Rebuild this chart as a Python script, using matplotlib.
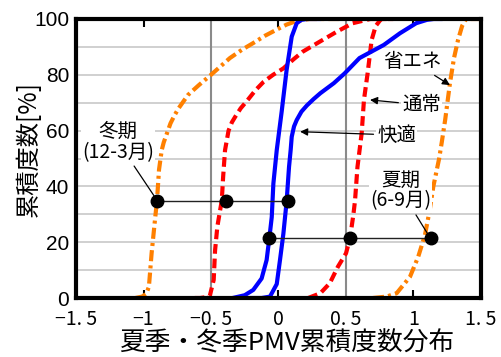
import matplotlib
matplotlib.use('Agg')
import matplotlib.pyplot as plt
from matplotlib.ticker import FixedLocator

plt.rcParams['lines.scale_dashes'] = False

# ---- data ----
# winter (冬期) curves
win_eco_x = [-1.06, -1.01, -0.98, -0.96, -0.94, -0.915, -0.90, -0.885, -0.865, -0.85, -0.83, -0.80,
             -0.77, -0.74, -0.67, -0.59, -0.50, -0.43, -0.36, -0.27, -0.19, -0.10, -0.013, 0.06,
             0.135, 0.23, 0.45]
win_eco_y = [0, 0.5, 1.5, 4, 16, 28, 35, 46, 53, 55.8, 58.5, 62.6,
             65.5, 68, 72.8, 76.3, 80, 83, 86, 89, 91.3, 94, 96.2, 98,
             99.3, 100, 100]

win_norm_x = [-0.62, -0.58, -0.51, -0.48, -0.47, -0.453, -0.42, -0.41, -0.396, -0.37, -0.345,
              -0.32, -0.28, -0.236, -0.17, -0.11, -0.04, 0.036, 0.11, 0.18, 0.31, 0.43, 0.55,
              0.68, 0.80]
win_norm_y = [0, 0, 0.5, 6.5, 17, 25.6, 35, 43.5, 53, 60, 63,
              65, 68, 70.5, 74.5, 77.5, 80, 82.3, 85.5, 88.3, 92, 95.4, 98.5,
              100, 100]

win_comf_x = [-0.20, -0.125, -0.063, -0.013, 0.011, 0.036, 0.06, 0.078, 0.09, 0.098, 0.115,
              0.135, 0.17, 0.21, 0.26, 0.31, 0.41, 0.49, 0.60, 0.78, 0.90, 1.02, 1.10, 1.15,
              1.20]
win_comf_y = [0, 0, 0.5, 5, 13.6, 23, 34.5, 47, 53, 57.8, 61.5,
              63.8, 66.8, 69, 71.3, 73.4, 77, 80.5, 86, 90.7, 94.9, 98.5, 99.7, 100,
              100]

# summer (夏期) curves
sum_comf_x = [-0.34, -0.25, -0.187, -0.125, -0.088, -0.068, -0.05, -0.038, -0.013, 0.024, 0.06,
              0.098, 0.135, 0.17, 0.21, 0.30]
sum_comf_y = [0, 1, 2.9, 7, 13.6, 21.4, 29, 41, 53, 67, 81.7, 93.7, 98.5, 99.7, 100, 100]

sum_norm_x = [0.22, 0.31, 0.38, 0.44, 0.50, 0.53, 0.555, 0.567, 0.585, 0.616, 0.633, 0.66, 0.69,
              0.72, 0.76, 0.85]
sum_norm_y = [0, 1.7, 5.3, 11.2, 16, 21.5, 30, 35, 47, 59, 71, 80.5, 92.5, 97.5, 100, 100]

sum_eco_x = [0.70, 0.80, 0.875, 0.974, 1.035, 1.085, 1.12, 1.147, 1.19, 1.21, 1.235, 1.27, 1.30,
             1.33, 1.36, 1.39, 1.50]
sum_eco_y = [0, 0.5, 1.7, 7.6, 14.8, 22.6, 31.5, 40, 50, 56, 64, 77, 86, 92.5, 97.5, 100, 100]

# marked points
win_pts_x = [-0.898, -0.389, 0.073]
win_pts_y = [34.9, 34.9, 34.9]
sum_pts_x = [-0.068, 0.53, 1.13]
sum_pts_y = [21.4, 21.4, 21.4]

x_ticks = [-1.5, -1.0, -0.5, 0.0, 0.5, 1.0, 1.5]
x_tick_labels = ['−1. 5', '−1', '−0. 5', '0', '0. 5', '1', '1. 5']
y_ticks = [0, 20, 40, 60, 80, 100]
y_tick_labels = ['0', '20', '40', '60', '80', '100']

BLUE = '#0000ff'
RED = '#ff0000'
ORANGE = '#ff8000'
JP = ['Noto Sans CJK JP', 'DejaVu Sans']

fig = plt.figure(figsize=(5.02, 3.57), dpi=100)
ax = fig.add_axes([76 / 502, 59 / 357, 405 / 502, 279 / 357])
ax.set_xlim(-1.5, 1.5)
ax.set_ylim(0, 100)

for yv in range(10, 100, 10):
    ax.axhline(yv, color='#c4c4c4', lw=1.1, zorder=0)
for xv in (-0.5, 0.5):
    ax.axvline(xv, color='#8a8a8a', lw=1.5, zorder=0.5)

lw = 3.0
ax.plot(win_eco_x, win_eco_y, color=ORANGE, lw=lw, dashes=(8, 3, 2.2, 3), zorder=2)
ax.plot(sum_eco_x, sum_eco_y, color=ORANGE, lw=lw, dashes=(8, 3, 2.2, 3), zorder=2)
ax.plot(win_norm_x, win_norm_y, color=RED, lw=lw, dashes=(7, 3.5), zorder=2)
ax.plot(sum_norm_x, sum_norm_y, color=RED, lw=lw, dashes=(7, 3.5), zorder=2)
ax.plot(win_comf_x, win_comf_y, color=BLUE, lw=lw, zorder=2)
ax.plot(sum_comf_x, sum_comf_y, color=BLUE, lw=lw, zorder=2)

ax.plot(win_pts_x, win_pts_y, color='#222222', lw=1.0, zorder=3)
ax.plot(sum_pts_x, sum_pts_y, color='#222222', lw=1.0, zorder=3)
ax.plot(win_pts_x, win_pts_y, 'o', color='black', ms=9, zorder=4)
ax.plot(sum_pts_x, sum_pts_y, 'o', color='black', ms=9, zorder=4)

for s in ax.spines.values():
    s.set_linewidth(3)
    s.set_color('black')
    s.set_zorder(5)

ax.xaxis.set_major_locator(FixedLocator(x_ticks))
ax.set_xticklabels(x_tick_labels, family=JP, fontsize=14)
ax.xaxis.set_minor_locator(FixedLocator([-1.0, 0.0, 1.0]))
ax.xaxis.remove_overlapping_locs = False
ax.tick_params(axis='x', which='major', length=0, pad=8)
ax.tick_params(axis='x', which='minor', direction='in', length=5.5, width=1.5,
               top=True, bottom=True, color='black')
ax.set_yticks(y_ticks)
ax.set_yticklabels(y_tick_labels, family='Liberation Sans', fontsize=15)
ax.tick_params(axis='y', length=0, pad=5)

fig.text(287 / 502, 1 - 343 / 357, '夏季・冬季PMV累積度数分布', family=JP, fontsize=18.5,
         ha='center', va='center')
fig.text(29 / 502, 1 - 149 / 357, '累積度数[%]', family=JP, fontsize=17.5,
         ha='center', va='center', rotation=90)

tfs = 14
ax.annotate('冬期\n(12-3月)', xy=(-0.898, 34.9), xytext=(-1.19, 56),
            ha='center', va='center', multialignment='center', family=JP, fontsize=tfs,
            linespacing=1.0,
            bbox=dict(boxstyle='square,pad=0.05', fc='white', ec='none'),
            arrowprops=dict(arrowstyle='-', color='black', lw=0.9, shrinkA=2, shrinkB=3),
            zorder=6)
ax.annotate('夏期\n(6-9月)', xy=(1.11, 22.6), xytext=(0.907, 38.5),
            ha='center', va='center', multialignment='center', family=JP, fontsize=tfs,
            linespacing=1.0,
            bbox=dict(boxstyle='square,pad=0.05', fc='white', ec='none'),
            arrowprops=dict(arrowstyle='-', color='black', lw=0.9, shrinkA=2, shrinkB=0),
            zorder=6)
ax.annotate('省エネ', xy=(1.27, 76.3), xytext=(0.996, 84.7),
            ha='center', va='center', family=JP, fontsize=tfs,
            bbox=dict(boxstyle='square,pad=0.05', fc='white', ec='none'),
            arrowprops=dict(arrowstyle='-|>', color='black', lw=0.9, mutation_scale=11,
                            shrinkA=3, shrinkB=0),
            zorder=6)
ax.annotate('通常', xy=(0.678, 71), xytext=(1.06, 69.2),
            ha='center', va='center', family=JP, fontsize=tfs,
            bbox=dict(boxstyle='square,pad=0.05', fc='white', ec='none'),
            arrowprops=dict(arrowstyle='-|>', color='black', lw=0.9, mutation_scale=11,
                            shrinkA=2, shrinkB=0),
            zorder=6)
ax.annotate('快適', xy=(0.16, 59.6), xytext=(0.876, 58.4),
            ha='center', va='center', family=JP, fontsize=tfs,
            bbox=dict(boxstyle='square,pad=0.05', fc='white', ec='none'),
            arrowprops=dict(arrowstyle='-|>', color='black', lw=0.9, mutation_scale=11,
                            shrinkA=2, shrinkB=0),
            zorder=6)

fig.savefig('out.png', dpi=100)
